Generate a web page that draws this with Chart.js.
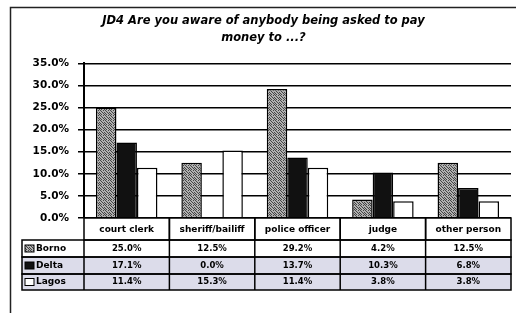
<!DOCTYPE html>
<html><head><meta charset="utf-8">
<script src="https://cdn.jsdelivr.net/npm/chart.js@4.4.1/dist/chart.umd.min.js"></script>
<style>html,body{margin:0;padding:0;background:#fff;}#wrap{width:516px;height:313px;}</style>
</head><body><div id="wrap"><canvas id="c" width="516" height="313"></canvas></div>
<script>
const categories = ["court clerk", "sheriff/bailiff", "police officer", "judge", "other person"];
const seriesNames = ["Borno", "Delta", "Lagos"];
const borno = [25.0, 12.5, 29.2, 4.2, 12.5];
const delta = [17.1, 0.0, 13.7, 10.3, 6.8];
const lagos = [11.4, 15.3, 11.4, 3.8, 3.8];
const yTicks = [0, 5, 10, 15, 20, 25, 30, 35];
const titleLines = ["JD4 Are you aware of anybody being asked to pay", "money to ...?"];

function makePattern() {
  const p = document.createElement('canvas');
  p.width = 5; p.height = 5;
  const g = p.getContext('2d');
  g.fillStyle = '#b0b0b0'; g.fillRect(0, 0, 5, 5);
  g.fillStyle = '#444';
  const dots = [[0,0],[3,0],[1,1],[4,2],[2,2],[0,3],[3,3],[1,4],[4,4]];
  dots.forEach(d => g.fillRect(d[0], d[1], 1, 1));
  return g.createPattern(p, 'repeat');
}
const ctx0 = document.getElementById('c').getContext('2d');
const grayPat = makePattern();
const swatches = [grayPat, '#111111', '#ffffff'];

const tablePlugin = {
  id: 'dataTable',
  afterDraw(chart) {
    const ctx = chart.ctx;
    const x = chart.scales.x;
    const area = chart.chartArea;
    const n = categories.length;
    const cw = (area.right - area.left) / n;
    const top = area.bottom;
    const rowsY = [top, top + 22, top + 39, top + 56, top + 72];
    const leftCol = 22;
    ctx.save();
    ctx.fillStyle = '#ffffff';
    ctx.fillRect(area.left, rowsY[0], area.right - area.left, rowsY[1] - rowsY[0]);
    ctx.fillRect(leftCol, rowsY[1], area.right - leftCol, rowsY[2] - rowsY[1]);
    ctx.fillStyle = '#dcdcea';
    ctx.fillRect(leftCol, rowsY[2], area.right - leftCol, rowsY[4] - rowsY[2]);
    ctx.strokeStyle = '#000';
    ctx.lineWidth = 1.5;
    for (let i = 0; i < n; i++) {
      const cx = x.getPixelForValue(i);
      ctx.strokeRect(cx - cw / 2, rowsY[0], cw, rowsY[1] - rowsY[0]);
    }
    for (let r = 0; r < 3; r++) {
      ctx.strokeRect(leftCol, rowsY[r + 1], area.right - leftCol, rowsY[r + 2] - rowsY[r + 1]);
      for (let i = 0; i < n; i++) {
        const cx = x.getPixelForValue(i);
        ctx.beginPath();
        ctx.moveTo(cx - cw / 2, rowsY[r + 1]);
        ctx.lineTo(cx - cw / 2, rowsY[r + 2]);
        ctx.stroke();
      }
    }
    ctx.fillStyle = '#000';
    ctx.textAlign = 'center';
    ctx.textBaseline = 'middle';
    ctx.font = 'bold 9px "DejaVu Sans"';
    categories.forEach((c, i) => {
      ctx.fillText(c, x.getPixelForValue(i), (rowsY[0] + rowsY[1]) / 2 + 1);
    });
    const data = [borno, delta, lagos];
    data.forEach((arr, r) => {
      const yc = (rowsY[r + 1] + rowsY[r + 2]) / 2;
      ctx.fillStyle = '#000';
      ctx.textAlign = 'center';
      ctx.font = 'bold 8.5px "DejaVu Sans"';
      arr.forEach((v, i) => {
        ctx.fillText(v.toFixed(1) + '%', x.getPixelForValue(i), yc);
      });
      ctx.fillStyle = swatches[r];
      ctx.fillRect(leftCol + 3, yc - 3.5, 9, 7);
      ctx.strokeStyle = '#000';
      ctx.lineWidth = 1;
      ctx.strokeRect(leftCol + 3, yc - 3.5, 9, 7);
      ctx.fillStyle = '#000';
      ctx.textAlign = 'left';
      ctx.font = 'bold 9px "DejaVu Sans"';
      ctx.fillText(seriesNames[r], leftCol + 14, yc);
    });
    ctx.lineWidth = 1.5;
    ctx.strokeStyle = '#222';
    ctx.strokeRect(10.5, 7.5, 540, 400);
    ctx.restore();
  }
};

new Chart(ctx0, {
  type: 'bar',
  data: {
    labels: categories,
    datasets: [
      { label: seriesNames[0], data: borno, backgroundColor: grayPat, borderColor: '#000', borderWidth: 1.5 },
      { label: seriesNames[1], data: delta, backgroundColor: '#111111', borderColor: '#000', borderWidth: 1.5 },
      { label: seriesNames[2], data: lagos, backgroundColor: '#ffffff', borderColor: '#000', borderWidth: 1.5 }
    ]
  },
  options: {
    responsive: false,
    animation: false,
    devicePixelRatio: 1,
    layout: { padding: { left: 16, right: 5, top: 0, bottom: 95 } },
    datasets: { bar: { categoryPercentage: 0.72, barPercentage: 1.0 } },
    plugins: {
      legend: { display: false },
      tooltip: { enabled: false },
      title: {
        display: true,
        text: titleLines,
        color: '#000',
        font: { family: 'DejaVu Sans', size: 11.5, weight: 'bold', style: 'italic', lineHeight: 1.45 },
        padding: { top: 13, bottom: 17 }
      }
    },
    scales: {
      x: { display: false },
      y: {
        min: 0, max: 35,
        afterBuildTicks(scale) { scale.ticks = yTicks.map(v => ({ value: v })); },
        afterFit(scale) { scale.width = 68; },
        ticks: {
          color: '#000',
          padding: 9,
          font: { family: 'DejaVu Sans', size: 10.5, weight: 'bold' },
          callback: v => v.toFixed(1) + '%'
        },
        grid: { color: '#000', lineWidth: 1.5, tickLength: 6, drawTicks: true },
        border: { color: '#000', width: 2 }
      }
    }
  },
  plugins: [tablePlugin]
});
</script>
</body></html>
